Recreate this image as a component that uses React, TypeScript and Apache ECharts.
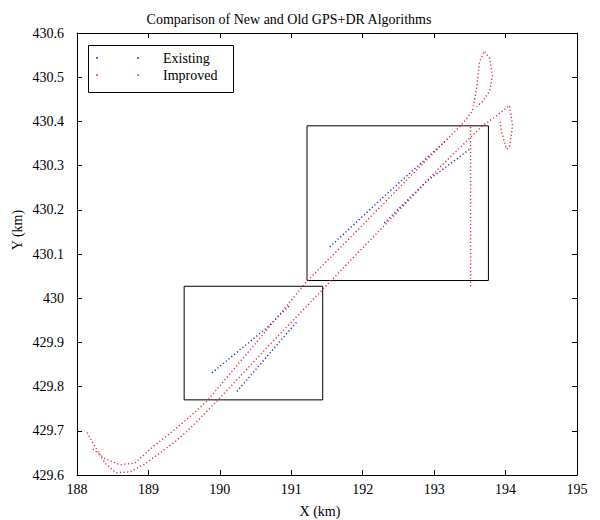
import React, { useEffect, useRef } from "react";
import * as echarts from "echarts";

// Improved (red) track, lower route: [x km, y km]
const improvedLower: number[][] = [
  [188.14, 429.696], [188.252, 429.664], [188.392, 429.627], [188.545, 429.605],
  [188.741, 429.607], [188.951, 429.625], [189.161, 429.65], [189.371, 429.675],
  [189.58, 429.705], [189.958, 429.767], [190.699, 429.895], [191.441, 430.02],
  [191.958, 430.107], [192.517, 430.2], [193.077, 430.296], [193.664, 430.388],
  [193.874, 430.413], [194.056, 430.436], [194.098, 430.39], [194.056, 430.344],
  [194.014, 430.337], [193.944, 430.376], [193.916, 430.406],
];
// Improved (red) track, upper route
const improvedUpper: number[][] = [
  [188.224, 429.659], [188.392, 429.637], [188.601, 429.623], [188.811, 429.627],
  [189.063, 429.664], [189.371, 429.703], [189.58, 429.732], [189.818, 429.767],
  [190.517, 429.901], [191.217, 430.038], [191.958, 430.159], [192.657, 430.274],
  [193.399, 430.395], [193.538, 430.424], [193.594, 430.474], [193.636, 430.536],
  [193.706, 430.559], [193.776, 430.543], [193.818, 430.504], [193.776, 430.468],
  [193.678, 430.445], [193.594, 430.433],
];
// Improved (red) vertical jump
const improvedJump: number[][] = [[193.51, 430.388], [193.51, 430.025]];

// Existing (blue) segments
const existingA: number[][] = [[191.538, 430.116], [192.378, 430.242], [193.175, 430.358]];
const existingB: number[][] = [[192.3, 430.17], [192.9, 430.265], [193.497, 430.337]];
const existingC: number[][] = [[189.888, 429.831], [190.657, 429.933], [190.979, 429.984]];
const existingD: number[][] = [[190.238, 429.789], [191.091, 429.949]];

// Highlight boxes: [[x1, y1], [x2, y2]]
const boxes: number[][][] = [
  [[191.22, 430.04], [193.76, 430.39]],
  [[189.5, 429.77], [191.44, 430.027]],
];

const xTicks = [188, 189, 190, 191, 192, 193, 194, 195];
const yTicks = [429.6, 429.7, 429.8, 429.9, 430, 430.1, 430.2, 430.3, 430.4, 430.5, 430.6];

const FONT = "Liberation Serif";
const RED = "rgb(232,40,70)";
const BLUE = "rgb(30,40,200)";

export default function App() {
  const ref = useRef<HTMLDivElement>(null);
  useEffect(() => {
    if (!ref.current) return;
    const chart = echarts.init(ref.current, undefined, { renderer: "svg" });
    const lineSeries = (name: string, data: number[][], color: string, z: number) => ({
      type: "line",
      name,
      data,
      symbol: "none",
      smooth: false,
      z,
      lineStyle: { color, width: 1.4, type: [1.2, 2.4] },
      xAxisIndex: 0,
      yAxisIndex: 0,
    });
    const axisCommon = {
      axisLine: { show: true, lineStyle: { color: "#000", width: 1 } },
      axisTick: { show: true, inside: true, length: 5, lineStyle: { color: "#000" } },
      splitLine: { show: false },
    };
    chart.setOption({
      animation: false,
      backgroundColor: "#fff",
      title: {
        text: "Comparison of New and Old GPS+DR Algorithms",
        left: 284,
        top: 7,
        textAlign: "center",
        textStyle: { fontFamily: FONT, fontSize: 14, fontWeight: "normal", color: "#000" },
      },
      grid: { left: 77, right: 23, top: 33, bottom: 45, containLabel: false },
      xAxis: [
        {
          type: "value",
          min: 188,
          max: 195,
          interval: 1,
          axisLabel: {
            fontFamily: FONT,
            fontSize: 14,
            color: "#000",
            margin: 7,
            formatter: (v: number) => (xTicks.includes(v) ? String(v) : ""),
          },
          ...axisCommon,
        },
        {
          type: "value",
          position: "top",
          min: 188,
          max: 195,
          interval: 1,
          axisLabel: { show: false },
          ...axisCommon,
        },
      ],
      yAxis: [
        {
          type: "value",
          min: 429.6,
          max: 430.6,
          interval: 0.1,
          axisLabel: {
            fontFamily: FONT,
            fontSize: 14,
            color: "#000",
            margin: 13,
            formatter: (v: number) => {
              const t = yTicks.find((k) => Math.abs(k - v) < 1e-6);
              return t === undefined ? "" : String(parseFloat(t.toFixed(1)));
            },
          },
          ...axisCommon,
        },
        {
          type: "value",
          position: "right",
          min: 429.6,
          max: 430.6,
          interval: 0.1,
          axisLabel: { show: false },
          ...axisCommon,
        },
      ],
      series: [
        lineSeries("Existing", existingA, BLUE, 2),
        lineSeries("Existing", existingB, BLUE, 2),
        lineSeries("Existing", existingC, BLUE, 2),
        lineSeries("Existing", existingD, BLUE, 2),
        lineSeries("Improved", improvedLower, RED, 3),
        lineSeries("Improved", improvedUpper, RED, 3),
        lineSeries("Improved", improvedJump, RED, 3),
        {
          type: "line",
          name: "boxes",
          data: [],
          markArea: {
            silent: true,
            itemStyle: { color: "rgba(0,0,0,0)", borderColor: "#000", borderWidth: 1 },
            data: boxes.map((b) => [{ coord: b[0] }, { coord: b[1] }]),
          },
        },
      ],
      graphic: [
        {
          type: "text",
          x: 320,
          y: 511,
          style: { text: "X (km)", fontFamily: FONT, fontSize: 14, fill: "#000", align: "center", verticalAlign: "middle" },
        },
        {
          type: "text",
          x: 17,
          y: 230,
          rotation: Math.PI / 2,
          style: { text: "Y (km)", fontFamily: FONT, fontSize: 14, fill: "#000", align: "center", verticalAlign: "middle" },
        },
        {
          type: "rect",
          shape: { x: 88.5, y: 45.5, width: 145, height: 47 },
          style: { fill: "#fff", stroke: "#000", lineWidth: 1 },
          z: 10,
        },
        { type: "circle", shape: { cx: 97, cy: 58, r: 0.9 }, style: { fill: BLUE }, z: 11 },
        { type: "circle", shape: { cx: 138, cy: 58, r: 0.9 }, style: { fill: BLUE }, z: 11 },
        { type: "circle", shape: { cx: 97, cy: 75, r: 0.9 }, style: { fill: RED }, z: 11 },
        { type: "circle", shape: { cx: 138, cy: 75, r: 0.9 }, style: { fill: RED }, z: 11 },
        {
          type: "text",
          x: 163,
          y: 58,
          style: { text: "Existing", fontFamily: FONT, fontSize: 14, fill: "#000", verticalAlign: "middle" },
          z: 11,
        },
        {
          type: "text",
          x: 163,
          y: 75,
          style: { text: "Improved", fontFamily: FONT, fontSize: 14, fill: "#000", verticalAlign: "middle" },
          z: 11,
        },
      ],
    });
    return () => chart.dispose();
  }, []);
  return <div ref={ref} style={{ position: "fixed", left: 0, top: 0, width: 600, height: 520 }} />;
}
